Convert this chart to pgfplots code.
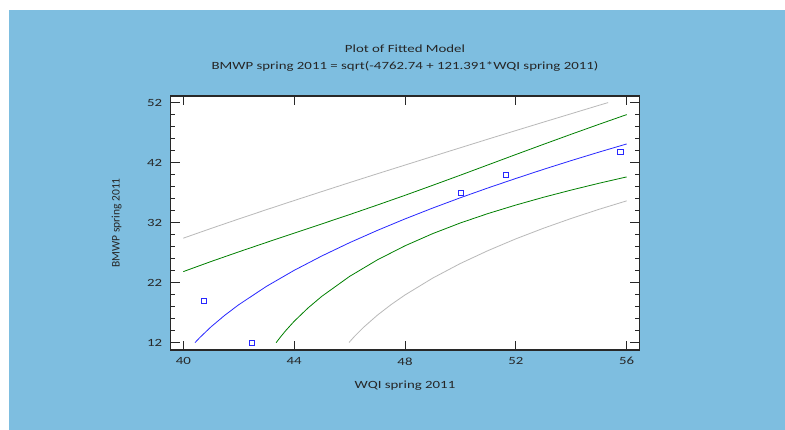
\documentclass[border=0pt]{standalone}
\usepackage{pgfplots}
\pgfplotsset{compat=1.18}
\usepackage{fontspec}
\setmainfont{Carlito}
\newfontfamily\wide[FakeStretch=1.35]{Carlito}
\definecolor{bgblue}{RGB}{126,190,224}
\definecolor{fitblue}{RGB}{40,40,255}
\definecolor{confgreen}{RGB}{0,128,0}
\definecolor{predgray}{RGB}{185,185,185}
\definecolor{framegray}{RGB}{40,40,40}
\begin{document}
\begin{tikzpicture}[x=1pt,y=1pt]
\fill[white] (0,0) rectangle (785,430);
\fill[bgblue] (9,0) rectangle (785,420);
\begin{axis}[
  at={(170.7pt,80pt)}, anchor=south west,
  scale only axis, width=468.6pt, height=254pt,
  xmin=39.545, xmax=56.455, ymin=10.78, ymax=53.1,
  xtick={40,44,48,52,56}, ytick={12,22,32,42,52},
  minor y tick num=4,
  tick align=inside,
  major tick length=9pt, minor tick length=4.5pt,
  axis background/.style={fill=white},
  axis line style={draw=framegray, line width=1.3pt},
  tick style={draw=framegray, line width=1pt},
  /pgf/number format/assume math mode=true,
  tick label style={font=\wide\fontsize{11}{13}\selectfont, text=black!85},
  x tick label style={yshift=-4pt},
  y tick label style={xshift=-5pt},
  title={Plot of Fitted Model\\BMWP spring 2011 = sqrt(-4762.74 + 121.391*WQI spring 2011)},
  title style={at={(axis description cs:0.5,1.124)}, anchor=center, align=center, font=\wide\fontsize{11}{17}\selectfont, text=black!85},
  xlabel={WQI spring 2011},
  x label style={at={(axis description cs:0.5,-0.1417)}, anchor=center, font=\wide\fontsize{11}{13}\selectfont, text=black!85},
  ylabel={BMWP spring 2011},
  y label style={at={(axis description cs:-0.1152,0.5)}, anchor=center, font=\fontsize{11.5}{13}\selectfont, text=black!85},
]
% prediction limits (gray)
\addplot[predgray, line width=0.8pt, no marks] coordinates {
(40,29.41) (41,31.03) (42,32.61) (43,34.16) (44,35.68) (45,37.18) (46,38.67) (47,40.14) (48,41.59) (49,43.04) (50,44.48) (51,45.92) (52,47.34) (53,48.75) (54,50.15) (55,51.55) (55.33,52.0)};
\addplot[predgray, line width=0.8pt, no marks] coordinates {
(45.98,12.03) (46.2,13.16) (46.5,14.54) (47,16.57) (47.5,18.35) (48,19.95) (49,22.76) (50,25.20) (51,27.35) (52,29.30) (53,31.07) (54,32.70) (55,34.22) (56,35.63)};
% confidence limits (green)
\addplot[confgreen, line width=0.8pt, no marks] coordinates {
(40,23.84) (41,25.52) (42,27.13) (43,28.70) (44,30.25) (45,31.79) (46,33.34) (47,34.93) (48,36.55) (49,38.22) (50,39.91) (51,41.63) (52,43.35) (53,45.05) (54,46.73) (55,48.38) (56,50.00)};
\addplot[confgreen, line width=0.8pt, no marks] coordinates {
(43.35,12.0) (43.5,12.91) (43.7,14.03) (44,15.56) (44.5,17.78) (45,19.73) (46,23.04) (47,25.79) (48,28.14) (49,30.17) (50,31.95) (51,33.52) (52,34.93) (53,36.23) (54,37.43) (55,38.56) (56,39.62)};
% fitted model (blue)
\addplot[fitblue, line width=0.8pt, no marks] coordinates {
(40.42,12.0) (40.6,12.87) (41,14.64) (41.5,16.58) (42,18.32) (43,21.38) (44,24.05) (45,26.45) (46,28.66) (47,30.70) (48,32.62) (49,34.43) (50,36.15) (51,37.79) (52,39.36) (53,40.88) (54,42.34) (55,43.75) (56,45.11)};
% observations
\addplot[only marks, mark=square, mark size=2.6pt, draw=fitblue, line width=0.8pt] coordinates {
(40.75,18.95) (42.48,11.95) (50.02,36.9) (51.65,39.9) (55.77,43.8)};
\end{axis}
\end{tikzpicture}
\end{document}
